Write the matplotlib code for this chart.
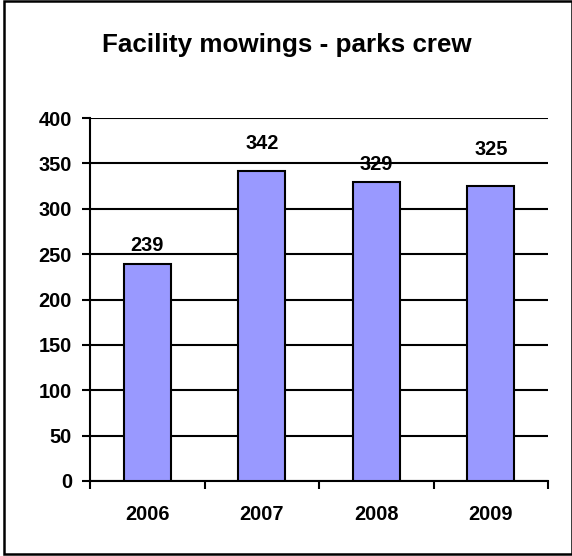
import matplotlib
matplotlib.use('Agg')
import matplotlib.pyplot as plt
from matplotlib.patches import Rectangle

years = ['2006', '2007', '2008', '2009']
mowings = [239, 342, 329, 325]
y_ticks = [0, 50, 100, 150, 200, 250, 300, 350, 400]

# how far each value label sits above its bar (points)
label_offsets = [6.4, 12.8, 6.4, 19.3]

plt.rcParams['font.family'] = ['Liberation Sans', 'DejaVu Sans']
plt.rcParams['font.weight'] = 'bold'

fig = plt.figure(figsize=(5.72, 5.56), dpi=100)
ax = fig.add_axes([90 / 572, 1 - 481 / 556, 458 / 572, 363 / 556])

x = list(range(len(years)))
bars = ax.bar(x, mowings, width=0.41, color='#9999FF', edgecolor='black',
              linewidth=1.5, zorder=3)

for bar, val, off in zip(bars, mowings, label_offsets):
    ax.annotate(str(val), (bar.get_x() + bar.get_width() / 2, val),
                xytext=(0, off), textcoords='offset points',
                ha='center', va='bottom', fontsize=14.4, fontweight='bold')

ax.set_xlim(-0.5, len(years) - 0.5)
ax.set_ylim(0, 400)
ax.set_yticks(y_ticks)
ax.yaxis.grid(True, color='black', linewidth=1.5, zorder=0)
ax.set_axisbelow(True)

ax.set_xticks(x)
ax.set_xticklabels(years)
ax.set_xticks([i - 0.5 for i in range(len(years) + 1)], minor=True)
ax.tick_params(axis='x', which='major', length=0, pad=17, labelsize=14.4)
ax.tick_params(axis='x', which='minor', length=6, width=1.5, direction='out')
ax.tick_params(axis='y', length=6, width=1.5, direction='out', pad=7, labelsize=14.4)

for side in ['top', 'right']:
    ax.spines[side].set_visible(False)
for side in ['left', 'bottom']:
    ax.spines[side].set_linewidth(1.5)

fig.text(0.502, 1 - 45 / 556, 'Facility mowings - parks crew', ha='center',
         va='center', fontsize=18.7, fontweight='bold')

# frame around the whole chart
fig.patches.append(Rectangle((4 / 572, 1 - 554 / 556), 567.5 / 572, 553 / 556,
                             transform=fig.transFigure, fill=False,
                             edgecolor='black', linewidth=1.8))

fig.savefig('out.png', dpi=100)
